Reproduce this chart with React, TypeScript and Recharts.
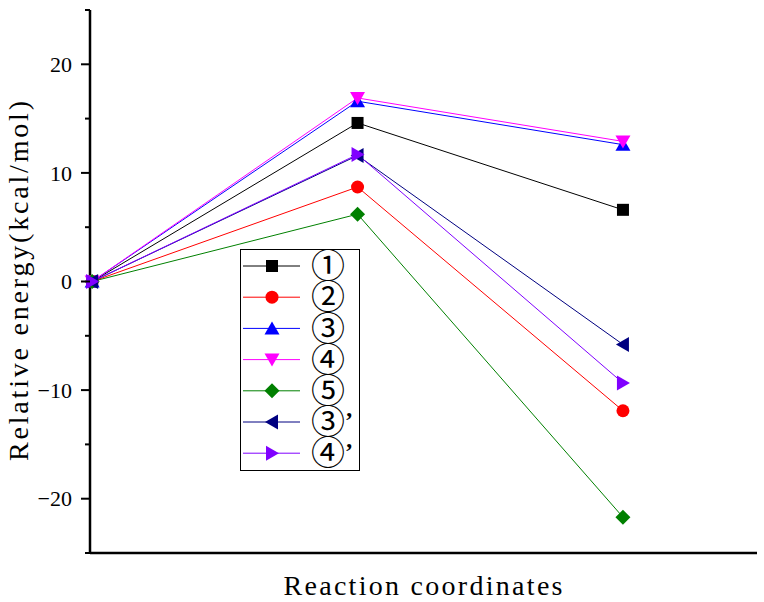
import { LineChart, Line, XAxis, YAxis, Legend } from 'recharts';

// reaction stages (IS, TS, FS) and relative energies in kcal/mol
const stages = [1, 2, 3];
const energy1 = [0, 14.6, 6.6];
const energy2 = [0, 8.7, -11.9];
const energy3 = [0, 16.6, 12.6];
const energy4 = [0, 16.9, 12.9];
const energy5 = [0, 6.2, -21.7];
const energy3p = [0, 11.6, -5.8];
const energy4p = [0, 11.7, -9.35];

const yTicks = [-25, -20, -15, -10, -5, 0, 5, 10, 15, 20, 25];

const series = [
  { key: 'e1', name: '①', prime: false, color: '#000000', shape: 'square', values: energy1 },
  { key: 'e2', name: '②', prime: false, color: '#ff0000', shape: 'circle', values: energy2 },
  { key: 'e3', name: '③', prime: false, color: '#0000ff', shape: 'up', values: energy3 },
  { key: 'e4', name: '④', prime: false, color: '#ff00ff', shape: 'down', values: energy4 },
  { key: 'e5', name: '⑤', prime: false, color: '#008000', shape: 'diamond', values: energy5 },
  { key: 'e3p', name: '③', prime: true, color: '#000080', shape: 'left', values: energy3p },
  { key: 'e4p', name: '④', prime: true, color: '#8000ff', shape: 'right', values: energy4p },
];

const data = stages.map((x, i) => {
  const row: any = { x };
  series.forEach((s) => (row[s.key] = s.values[i]));
  return row;
});

function Marker({ cx, cy, shape, color }: any) {
  switch (shape) {
    case 'square':
      return <rect x={cx - 6} y={cy - 6} width={12} height={12} fill={color} />;
    case 'circle':
      return <circle cx={cx} cy={cy} r={6.5} fill={color} />;
    case 'up':
      return <polygon points={`${cx},${cy - 7} ${cx + 7.5},${cy + 6} ${cx - 7.5},${cy + 6}`} fill={color} />;
    case 'down':
      return <polygon points={`${cx - 7.5},${cy - 6} ${cx + 7.5},${cy - 6} ${cx},${cy + 7}`} fill={color} />;
    case 'diamond':
      return <polygon points={`${cx},${cy - 7.5} ${cx + 7.5},${cy} ${cx},${cy + 7.5} ${cx - 7.5},${cy}`} fill={color} />;
    case 'left':
      return <polygon points={`${cx - 7},${cy} ${cx + 6},${cy - 7.5} ${cx + 6},${cy + 7.5}`} fill={color} />;
    default:
      return <polygon points={`${cx + 7},${cy} ${cx - 6},${cy - 7.5} ${cx - 6},${cy + 7.5}`} fill={color} />;
  }
}

function YTick({ x, y, payload }: any) {
  const v = payload.value;
  const major = v % 10 === 0;
  const axisX = x + 18;
  return (
    <g>
      <line x1={axisX - (major ? 9 : 5)} x2={axisX} y1={y} y2={y} stroke="#000" strokeWidth={2} />
      {major && (
        <text x={x} y={y} dy="0.35em" textAnchor="end" fontFamily="Liberation Serif" fontSize={22} fill="#000">
          {v < 0 ? `\u2212${-v}` : v}
        </text>
      )}
    </g>
  );
}

// legend svg is padded by 10px so the glyph boxes stay inside it
const renderLegend = () => (
  <svg width={120} height={242}>
    <rect x={0.5} y={10.5} width={119} height={221} fill="#fff" stroke="#000" />
    {series.map((s, i) => {
      const y = 27 + i * 31.2;
      return (
        <g key={s.key}>
          <line x1={3} x2={60} y1={y} y2={y} stroke={s.color} strokeWidth={1} />
          <Marker cx={32} cy={y} shape={s.shape} color={s.color} />
          <text x={71} y={y} dy="0.36em" fontFamily="Noto Sans CJK SC" fontSize={34} fill="#000">
            {s.name}
          </text>
          {s.prime && (
            <text x={105} y={y + 6} fontFamily="Liberation Serif" fontSize={24} fontWeight="bold" fill="#000">
              ’
            </text>
          )}
        </g>
      );
    })}
  </svg>
);

const XLabel = () => (
  <text
    x={423}
    y={595}
    textAnchor="middle"
    fontFamily="Liberation Serif"
    fontSize={28}
    textLength={279}
    lengthAdjust="spacing"
    fill="#000"
  >
    Reaction coordinates
  </text>
);

const YLabel = () => (
  <text
    x={28}
    y={281}
    transform="rotate(-90, 28, 281)"
    textAnchor="middle"
    fontFamily="Liberation Serif"
    fontSize={28}
    textLength={360}
    lengthAdjust="spacing"
    fill="#000"
  >
    Relative energy(kcal/mol)
  </text>
);

export default function App() {
  return (
    <div style={{ position: 'absolute', left: 0, top: 0, background: '#fff' }}>
      <LineChart width={764} height={602} data={data} margin={{ top: 10, right: 7, bottom: 0, left: 0 }}>
        <XAxis
          type="number"
          dataKey="x"
          domain={[0.992, 3.505]}
          tick={false}
          tickLine={false}
          height={49}
          axisLine={{ stroke: '#000', strokeWidth: 2.5 }}
          label={<XLabel />}
        />
        <YAxis
          width={90}
          domain={[-25, 25]}
          ticks={yTicks}
          interval={0}
          tickSize={9}
          tickMargin={9}
          tickLine={false}
          tick={<YTick />}
          axisLine={{ stroke: '#000', strokeWidth: 2.5 }}
          label={<YLabel />}
        />
        <Legend
          layout="vertical"
          align="center"
          verticalAlign="middle"
          content={renderLegend}
          wrapperStyle={{ position: 'absolute', left: 240, top: 239, width: 120, height: 242 }}
        />
        {series.map((s) => (
          <Line
            key={s.key}
            dataKey={s.key}
            name={s.name}
            stroke={s.color}
            strokeWidth={1}
            type="linear"
            isAnimationActive={false}
            dot={(p: any) => (
              <Marker key={`${s.key}-${p.index}`} cx={p.cx} cy={p.cy} shape={s.shape} color={s.color} />
            )}
            activeDot={false}
          />
        ))}
      </LineChart>
    </div>
  );
}
